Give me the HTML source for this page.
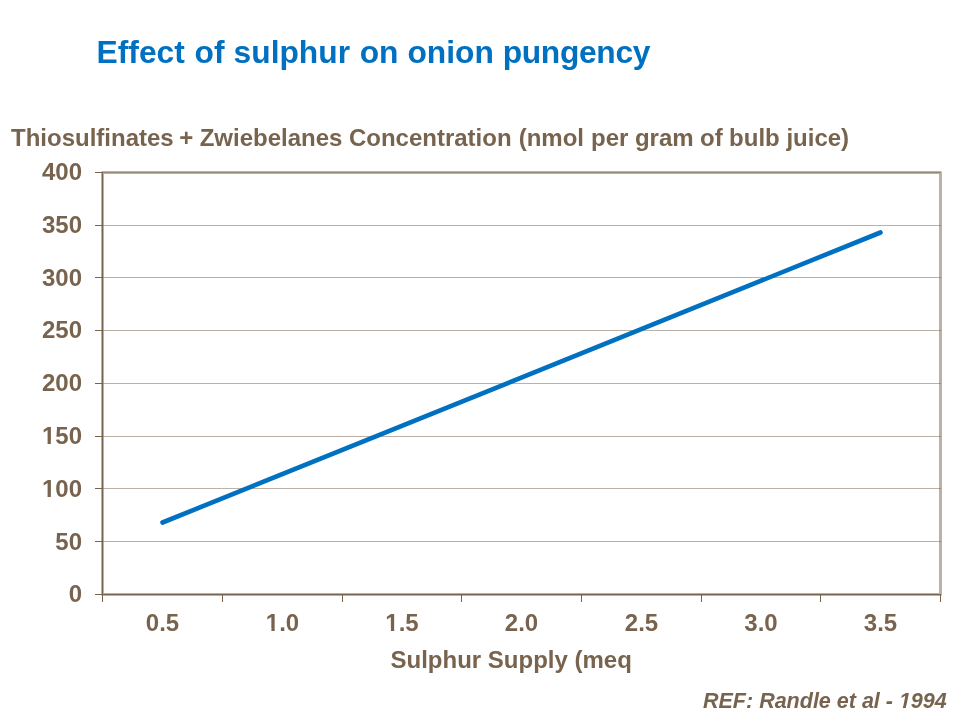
<!DOCTYPE html>
<html>
<head>
<meta charset="utf-8">
<style>
html,body{margin:0;padding:0;background:#fff;}
body{width:960px;height:720px;overflow:hidden;position:relative;}
svg{position:absolute;left:0;top:0;will-change:transform;}
text{font-family:"Liberation Sans",sans-serif;font-weight:bold;}
</style>
</head>
<body>
<svg width="960" height="720" viewBox="0 0 960 720">
<g font-size="31.75" fill="#0070C0"><text x="96.58" y="63">Effect</text><text x="194.56" y="63">of</text><text x="233.58" y="63">sulphur</text><text x="359.66" y="63">on</text><text x="407.46" y="63">onion</text><text x="502.71" y="63" textLength="147.7" lengthAdjust="spacing">pungency</text></g>
<g font-size="24" fill="#78644E"><text x="11.0" y="146">Thiosulfinates</text><text x="179.2" y="146">+</text><text x="199.7" y="146">Zwiebelanes</text><text x="348.9" y="146">Concentration</text><text x="518.7" y="146">(nmol</text><text x="591.0" y="146">per</text><text x="634.9" y="146">gram</text><text x="700.1" y="146">of</text><text x="729.1" y="146">bulb</text><text x="786.4" y="146">juice)</text></g>
<g stroke="#78644E" stroke-opacity="0.5" stroke-width="1" fill="none" shape-rendering="crispEdges">
<line x1="102" y1="172.5" x2="941" y2="172.5"/>
<line x1="102" y1="225.5" x2="941" y2="225.5"/>
<line x1="102" y1="277.5" x2="941" y2="277.5"/>
<line x1="102" y1="330.5" x2="941" y2="330.5"/>
<line x1="102" y1="383.5" x2="941" y2="383.5"/>
<line x1="102" y1="436.5" x2="941" y2="436.5"/>
<line x1="102" y1="488.5" x2="941" y2="488.5"/>
<line x1="102" y1="541.5" x2="941" y2="541.5"/>
</g>
<rect x="102.5" y="172.5" width="838" height="422" fill="none" stroke="#78644E" stroke-opacity="0.5" stroke-width="3" stroke-linejoin="round"/>
<g stroke="#78644E" stroke-width="1" fill="none" shape-rendering="crispEdges">
<line x1="102.5" y1="172" x2="102.5" y2="602"/>
<line x1="95" y1="594.5" x2="941" y2="594.5"/>
<line x1="95" y1="172.5" x2="102" y2="172.5"/>
<line x1="95" y1="225.5" x2="102" y2="225.5"/>
<line x1="95" y1="277.5" x2="102" y2="277.5"/>
<line x1="95" y1="330.5" x2="102" y2="330.5"/>
<line x1="95" y1="383.5" x2="102" y2="383.5"/>
<line x1="95" y1="436.5" x2="102" y2="436.5"/>
<line x1="95" y1="488.5" x2="102" y2="488.5"/>
<line x1="95" y1="541.5" x2="102" y2="541.5"/>
<line x1="95" y1="594.5" x2="102" y2="594.5"/>
<line x1="102.5" y1="595" x2="102.5" y2="602"/>
<line x1="222.5" y1="595" x2="222.5" y2="602"/>
<line x1="342.5" y1="595" x2="342.5" y2="602"/>
<line x1="461.5" y1="595" x2="461.5" y2="602"/>
<line x1="581.5" y1="595" x2="581.5" y2="602"/>
<line x1="701.5" y1="595" x2="701.5" y2="602"/>
<line x1="820.5" y1="595" x2="820.5" y2="602"/>
<line x1="940.5" y1="595" x2="940.5" y2="602"/>
</g>
<g  font-size="24" fill="#78644E" text-anchor="end">
<text x="82" y="180">400</text>
<text x="82" y="233">350</text>
<text x="82" y="286">300</text>
<text x="82" y="338">250</text>
<text x="82" y="391">200</text>
<text x="82" y="444">150</text>
<text x="82" y="497">100</text>
<text x="82" y="550">50</text>
<text x="82" y="602">0</text>
</g>
<g  font-size="24" fill="#78644E" text-anchor="middle">
<text x="162.5" y="631">0.5</text>
<text x="282.5" y="631">1.0</text>
<text x="402.0" y="631">1.5</text>
<text x="521.5" y="631">2.0</text>
<text x="641.5" y="631">2.5</text>
<text x="761.0" y="631">3.0</text>
<text x="880.5" y="631">3.5</text>
</g>
<text  x="390.5" y="668" font-size="24" fill="#78644E">Sulphur Supply (meq</text>
<line x1="162.5" y1="522.5" x2="880.5" y2="232.5" stroke="#0070C0" stroke-width="4.6" stroke-linecap="round"/>
<text x="703" y="707.6" font-size="21.5" font-style="italic" fill="#78644E">REF: Randle et al - 1994</text>
<g fill="#fff"><rect x="42.765" y="441.000" width="4.790" height="3.8"/><rect x="50.848" y="441.000" width="4.485" height="3.8"/><rect x="42.765" y="494.000" width="4.790" height="3.8"/><rect x="50.848" y="494.000" width="4.485" height="3.8"/><rect x="266.624" y="628.000" width="4.790" height="3.8"/><rect x="274.707" y="628.000" width="4.485" height="3.8"/><rect x="386.124" y="628.000" width="4.790" height="3.8"/><rect x="394.207" y="628.000" width="4.485" height="3.8"/><polygon points="898.276,708.630 899.205,705.000 903.368,705.000 902.664,708.630"/><polygon points="905.614,708.630 906.318,705.000 910.444,705.000 910.192,708.630"/></g>
</svg>
</body>
</html>
